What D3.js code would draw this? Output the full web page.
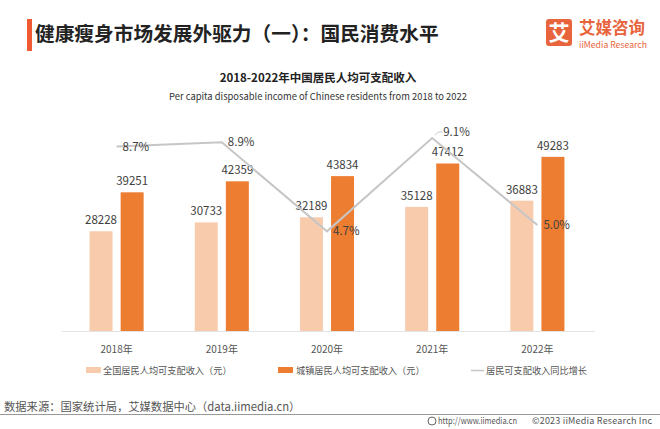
<!DOCTYPE html>
<html>
<head>
<meta charset="utf-8">
<script src="https://cdn.jsdelivr.net/npm/d3@7"></script>
<style>
  body { margin: 0; background: #fff; }
  svg text { font-family: "Noto Sans CJK SC", "Noto Sans", sans-serif; }
</style>
</head>
<body>
<svg id="chart" width="660" height="429"></svg>
<script>
(function () {
  "use strict";

  const years = ["2018年", "2019年", "2020年", "2021年", "2022年"]
  const allIncome = [28228, 30733, 32189, 35128, 36883]
  const urbanIncome = [39251, 42359, 43834, 47412, 49283]
  const growth = [8.7, 8.9, 4.7, 9.1, 5.0]
  const seriesNames = ["全国居民人均可支配收入（元）", "城镇居民人均可支配收入（元）", "居民可支配收入同比增长"]

  const lightC = "#f8cbad"
  const darkC = "#ed7d31"
  const lineC = "#c6c6c6"
  const accent = "#e8643c"

  let svg = d3.select("#chart")

  // header
  svg.append("rect").attr("x", 27).attr("y", 19).attr("width", 5).attr("height", 32).attr("fill", "#f05a32")
  svg.append("text").attr("x", 35).attr("y", 41)
    .attr("font-size", 19.7).attr("font-weight", "bold").attr("fill", "#222")
    .text("健康瘦身市场发展外驱力（一）：国民消费水平")

  // logo
  svg.append("rect").attr("x", 546).attr("y", 19).attr("width", 26).attr("height", 27).attr("rx", 3).attr("fill", accent)
  svg.append("text").attr("x", 559).attr("y", 40).attr("text-anchor", "middle")
    .attr("font-size", 21).attr("font-weight", "bold").attr("fill", "#fff").text("艾")
  svg.append("text").attr("x", 579).attr("y", 34)
    .attr("font-size", 16.5).attr("font-weight", "bold").attr("fill", accent).text("艾媒咨询")
  svg.append("text").attr("x", 579).attr("y", 48)
    .attr("font-size", 8.5).attr("fill", accent)
    .attr("textLength", 68).attr("lengthAdjust", "spacingAndGlyphs")
    .text("iiMedia Research")

  // chart titles
  svg.append("text").attr("x", 318).attr("y", 82).attr("text-anchor", "middle")
    .attr("font-size", 11.5).attr("font-weight", "bold").attr("fill", "#222")
    .text("2018-2022年中国居民人均可支配收入")
  svg.append("text").attr("x", 318).attr("y", 100).attr("text-anchor", "middle")
    .attr("font-size", 9.4).attr("fill", "#333")
    .text("Per capita disposable income of Chinese residents from 2018 to 2022")

  // scales
  const baseY = 331
  let x0 = d3.scaleBand().domain(years).range([64, 590]).paddingInner(0.486).paddingOuter(0.243)
  let x1 = d3.scaleBand().domain([0, 1]).range([0, x0.bandwidth()]).paddingInner(0.26)
  let y = d3.scaleLinear().domain([0, 60000]).range([baseY, 119])
  let y2 = d3.scaleLinear().domain([0, 10]).range([baseY, 119])

  // baseline
  svg.append("line").attr("x1", 62).attr("x2", 595).attr("y1", baseY + 0.5).attr("y2", baseY + 0.5)
    .attr("stroke", "#e3e3e3").attr("stroke-width", 1)

  // bars
  let series = [allIncome, urbanIncome]
  let colors = [lightC, darkC]
  series.forEach(function (vals, si) {
    let g = svg.append("g")
    g.selectAll("rect").data(vals).enter().append("rect")
      .attr("x", (d, i) => x0(years[i]) + x1(si))
      .attr("y", d => y(d))
      .attr("width", x1.bandwidth())
      .attr("height", d => baseY - y(d))
      .attr("fill", colors[si])
    g.selectAll("text").data(vals).enter().append("text")
      .attr("x", (d, i) => x0(years[i]) + x1(si) + x1.bandwidth() / 2)
      .attr("y", d => y(d) - 7)
      .attr("text-anchor", "middle")
      .attr("font-size", 11.5).attr("fill", "#404040")
      .text(d => d)
  })

  // growth line
  let cx = i => x0(years[i]) + x0.bandwidth() / 2
  let line = d3.line().x((d, i) => cx(i)).y(d => y2(d))
  svg.append("path").datum(growth).attr("d", line)
    .attr("fill", "none").attr("stroke", lineC).attr("stroke-width", 2)

  // leader for 2021 label
  svg.append("path")
    .attr("d", d3.line()([[cx(3) + 3, y2(growth[3]) - 3], [cx(3) + 6, y2(growth[3]) - 6], [cx(3) + 10, y2(growth[3]) - 6]]))
    .attr("fill", "none").attr("stroke", lineC).attr("stroke-width", 1)

  svg.append("g").selectAll("text").data(growth).enter().append("text")
    .attr("x", (d, i) => cx(i) + (i === 3 ? 11 : 6))
    .attr("y", (d, i) => y2(d) + (i === 3 ? -2 : 4))
    .attr("font-size", 11.5).attr("fill", "#404040")
    .text(d => d.toFixed(1) + "%")

  // x labels
  svg.append("g").selectAll("text").data(years).enter().append("text")
    .attr("x", d => x0(d) + x0.bandwidth() / 2)
    .attr("y", 353)
    .attr("text-anchor", "middle")
    .attr("font-size", 10).attr("fill", "#555")
    .text(d => d)

  // legend
  let lg = svg.append("g")
  lg.append("rect").attr("x", 86).attr("y", 367).attr("width", 15).attr("height", 6).attr("fill", lightC)
  lg.append("text").attr("x", 103).attr("y", 374).attr("font-size", 9.2).attr("fill", "#555").text(seriesNames[0])
  lg.append("rect").attr("x", 278).attr("y", 367).attr("width", 15).attr("height", 6).attr("fill", darkC)
  lg.append("text").attr("x", 296).attr("y", 374).attr("font-size", 9.2).attr("fill", "#555").text(seriesNames[1])
  lg.append("line").attr("x1", 471).attr("x2", 484).attr("y1", 370.5).attr("y2", 370.5).attr("stroke", lineC).attr("stroke-width", 1.5)
  lg.append("text").attr("x", 486).attr("y", 374).attr("font-size", 9.2).attr("fill", "#555").text(seriesNames[2])

  // footer
  svg.append("text").attr("x", 4).attr("y", 411).attr("font-size", 11.3).attr("fill", "#555")
    .text("数据来源：国家统计局，艾媒数据中心（data.iimedia.cn）")
  svg.append("line").attr("x1", 0).attr("x2", 660).attr("y1", 414.5).attr("y2", 414.5)
    .attr("stroke", "#999").attr("stroke-width", 1)
  svg.append("circle").attr("cx", 432).attr("cy", 421).attr("r", 4).attr("fill", "none").attr("stroke", "#666").attr("stroke-width", 1)
  svg.append("text").attr("x", 438).attr("y", 424).attr("font-size", 9).attr("fill", "#555")
    .attr("textLength", 79).attr("lengthAdjust", "spacingAndGlyphs")
    .text("http://www.iimedia.cn")
  svg.append("text").attr("x", 532).attr("y", 424).attr("font-size", 9).attr("fill", "#555")
    .attr("textLength", 120).attr("lengthAdjust", "spacing")
    .text("©2023  iiMedia Research  Inc")
})();
</script>
</body>
</html>
